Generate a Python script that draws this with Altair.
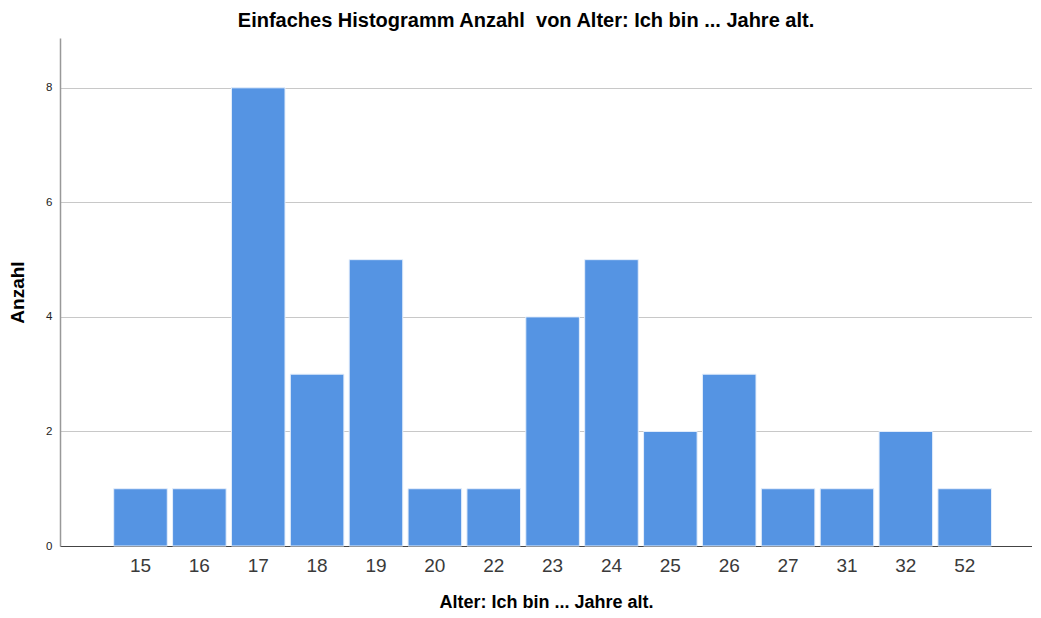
import altair as alt
import pandas as pd

ages = ["15", "16", "17", "18", "19", "20", "22", "23", "24", "25", "26", "27", "31", "32", "52"]
counts = [1, 1, 8, 3, 5, 1, 1, 4, 5, 2, 3, 1, 1, 2, 1]
y_ticks = [0, 2, 4, 6, 8]

df = pd.DataFrame({"Alter": ages, "Anzahl": counts})

FONT = "Liberation Sans"

chart = alt.Chart(df).mark_bar(
    color="#5594E3", stroke="#e4eefb", strokeWidth=1
).encode(
    x=alt.X("Alter:N", sort=ages,
            scale=alt.Scale(paddingInner=0.09, paddingOuter=0.8, align=0.57),
            axis=alt.Axis(title="Alter: Ich bin ... Jahre alt.", labelAngle=0,
                          labelFontSize=19, labelColor="#3a3a3a", labelPadding=10,
                          ticks=False, domainColor="#444444", domainWidth=1.2,
                          titleFontSize=18, titleFontWeight="bold", titlePadding=18,
                          titleColor="#000000", grid=False)),
    y=alt.Y("Anzahl:Q",
            scale=alt.Scale(domain=[0, 8.87], nice=False),
            axis=alt.Axis(title="Anzahl", values=y_ticks, labelFontSize=11.5,
                          labelColor="#222222", labelPadding=8, ticks=False,
                          domainColor="#999999", domainWidth=1.5,
                          gridColor="#c8c8c8", gridWidth=1.2,
                          titleFontSize=19, titleFontWeight="bold", titlePadding=18,
                          titleColor="#000000")),
).properties(
    width=972,
    height=508,
    title=alt.Title("Einfaches Histogramm Anzahl\u00a0 von Alter: Ich bin ... Jahre alt.",
                    fontSize=20, fontWeight="bold", font=FONT, offset=7,
                    anchor="middle", color="#000000", dx=-20),
    padding={"left": 0, "top": 3, "right": 0, "bottom": 0},
).configure(font=FONT).configure_view(stroke=None).configure_axis(
    labelFont=FONT, titleFont=FONT
)

chart.save("out.html", embed_options={"renderer": "svg", "actions": False})
